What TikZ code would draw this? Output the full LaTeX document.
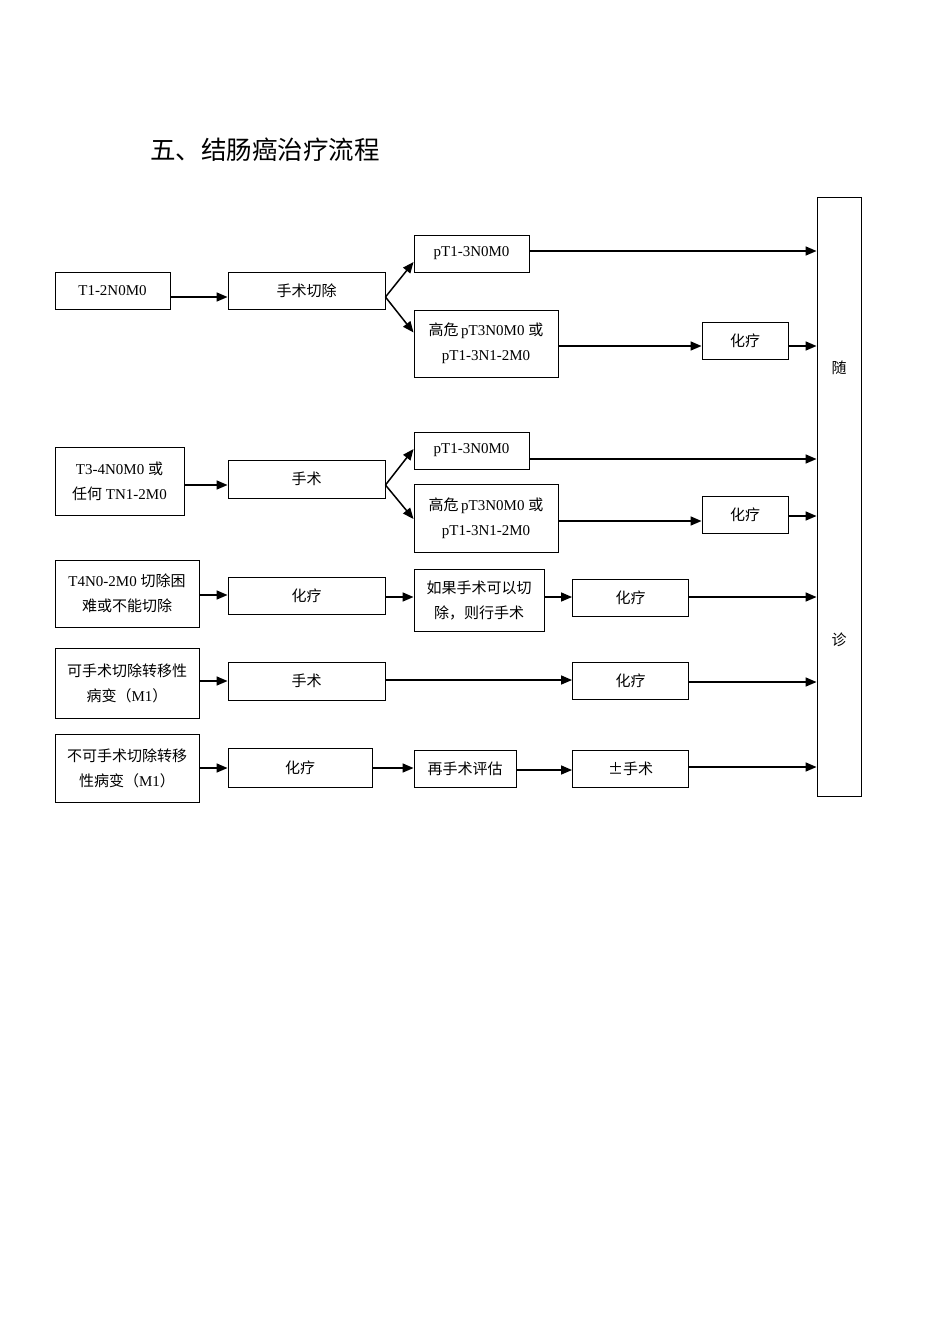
\documentclass[tikz,border=0pt]{standalone}
\usepackage{fontspec}
\setmainfont{Liberation Serif}
\newfontfamily\cjk{Noto Sans CJK SC}
\usetikzlibrary{arrows.meta,calc}
\newcommand{\harr}[3]{\draw[arr] ([yshift=#3]#1.east) -- ([yshift=#3]#1.east -| #2.west);}
\begin{document}
\begin{tikzpicture}[x=1pt,y=-1pt,
  box/.style={draw, line width=0.9pt, inner sep=0pt, align=center, font=\fontsize{15}{25}\selectfont},
  arr/.style={line width=1.5pt, -{Triangle[length=11pt,width=9pt]}},
  txt/.style={inner sep=0pt, font=\fontsize{15}{25}\selectfont\cjk}]
\useasboundingbox (0,0) rectangle (950,1344);
\node[anchor=west, inner sep=0pt, font=\fontsize{25.5}{30}\selectfont\cjk] (title) at (150,150) {五、结肠癌治疗流程};
% follow-up box
\node[box, minimum width=44pt, minimum height=599pt] (F) at (839,496.5) {};
\node[txt] (f1) at (839,368) {随};
\node[txt] (f2) at (839,640) {诊};
% row 1
\node[box, minimum width=115pt, minimum height=37pt] (a1) at (112.5,290.5) {T1-2N0M0};
\node[box, minimum width=157pt, minimum height=37pt] (a2) at (306.5,290.5) {\cjk 手术切除};
\node[box, minimum width=115pt, minimum height=37pt] (a3) at (471.5,253.5) {pT1-3N0M0};
\node[box, minimum width=144pt, minimum height=67pt] (a4) at (486,343.5) {{\cjk 高危}\,pT3N0M0 {\cjk 或}\\pT1-3N1-2M0};
\node[box, minimum width=86pt, minimum height=37pt] (a5) at (745,340.5) {\cjk 化疗};
\harr{a1}{a2}{-6.5pt}
\draw[arr] ([yshift=-6.5pt]a2.east) -- ([yshift=-8.5pt]a3.west);
\draw[arr] ([yshift=-6.5pt]a2.east) -- ([yshift=11pt]a4.west);
\harr{a3}{F}{2.5pt}
\harr{a4}{a5}{-2.5pt}
\harr{a5}{F}{-5.5pt}
% row 2
\node[box, minimum width=129pt, minimum height=68pt] (b1) at (119.5,481) {T3-4N0M0 {\cjk 或}\\{\cjk 任何} TN1-2M0};
\node[box, minimum width=157pt, minimum height=38pt] (b2) at (306.5,479) {\cjk 手术};
\node[box, minimum width=115pt, minimum height=37pt] (b3) at (471.5,450.5) {pT1-3N0M0};
\node[box, minimum width=144pt, minimum height=68pt] (b4) at (486,518) {{\cjk 高危}\,pT3N0M0 {\cjk 或}\\pT1-3N1-2M0};
\node[box, minimum width=86pt, minimum height=37pt] (b5) at (745,514.5) {\cjk 化疗};
\harr{b1}{b2}{-4pt}
\draw[arr] ([yshift=-6pt]b2.east) -- ([yshift=1.5pt]b3.west);
\draw[arr] ([yshift=-6pt]b2.east) -- ([yshift=-1pt]b4.west);
\harr{b3}{F}{-8.5pt}
\harr{b4}{b5}{-3pt}
\harr{b5}{F}{-1.5pt}
% row 3
\node[box, minimum width=144pt, minimum height=67pt] (c1) at (127,593.5) {T4N0-2M0 {\cjk 切除困}\\{\cjk 难或不能切除}};
\node[box, minimum width=157pt, minimum height=37pt] (c2) at (306.5,595.5) {\cjk 化疗};
\node[box, minimum width=130pt, minimum height=62pt] (c3) at (479,600.5) {\cjk 如果手术可以切\\\cjk 除，则行手术};
\node[box, minimum width=116pt, minimum height=37pt] (c4) at (630.5,598) {\cjk 化疗};
\harr{c1}{c2}{-1.5pt}
\harr{c2}{c3}{-1.5pt}
\harr{c3}{c4}{3.5pt}
\harr{c4}{F}{1pt}
% row 4
\node[box, minimum width=144pt, minimum height=70pt] (d1) at (127,683) {{\cjk 可手术切除转移性}\\{\cjk 病变（}M1{\cjk ）}};
\node[box, minimum width=157pt, minimum height=38pt] (d2) at (306.5,681) {\cjk 手术};
\node[box, minimum width=116pt, minimum height=37pt] (d3) at (630.5,680.5) {\cjk 化疗};
\harr{d1}{d2}{2pt}
\harr{d2}{d3}{1pt}
\harr{d3}{F}{-1.5pt}
% row 5
\node[box, minimum width=144pt, minimum height=68pt] (e1) at (127,768) {{\cjk 不可手术切除转移}\\{\cjk 性病变（}M1{\cjk ）}};
\node[box, minimum width=144pt, minimum height=39pt] (e2) at (300,767.5) {\cjk 化疗};
\node[box, minimum width=102pt, minimum height=37pt] (e3) at (465,768.5) {\cjk 再手术评估};
\node[box, minimum width=116pt, minimum height=37pt] (e4) at (630.5,768.5) {\cjk ±手术};
\harr{e1}{e2}{0pt}
\harr{e2}{e3}{-0.5pt}
\harr{e3}{e4}{-1.5pt}
\harr{e4}{F}{1.5pt}
\end{tikzpicture}
\end{document}
